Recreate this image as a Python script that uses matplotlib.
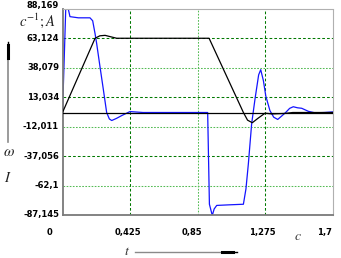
import matplotlib
matplotlib.use("Agg")
import matplotlib.pyplot as plt
from matplotlib.lines import Line2D
import matplotlib.transforms as mtransforms

plt.rcParams['mathtext.fontset'] = 'stix'

# ---- data ----
y_ticks = [88.169, 63.124, 38.079, 13.034, -12.011, -37.056, -62.1, -87.145]
y_tick_labels = ["88,169", "63,124", "38,079", "13,034", "-12,011", "-37,056", "-62,1", "-87,145"]
x_ticks = [0, 0.425, 0.85, 1.275, 1.7]
x_tick_labels = ["0", "0,425", "0,85", "1,275", "1,7"]

t_w = [0, 0.205, 0.235, 0.268, 0.30, 0.341, 0.923, 1.139, 1.165, 1.195, 1.23, 1.275, 1.32, 1.40, 1.45, 1.7]
w = [0, 63.1, 65.2, 65.6, 64.5, 63.124, 63.124, 0, -6.5, -8.7, -5.0, -0.6, -1.2, -0.8, 0, 0]

t_i = [0, 0.0095, 0.022, 0.03, 0.047, 0.1, 0.173, 0.19, 0.205, 0.215, 0.236, 0.257, 0.278,
       0.295, 0.31, 0.34, 0.373, 0.425, 0.507, 0.914, 0.925, 0.943, 0.955, 0.971, 1.05,
       1.139, 1.155, 1.17, 1.191, 1.212, 1.235, 1.248, 1.265, 1.28, 1.306, 1.33, 1.355,
       1.38, 1.405, 1.43, 1.453, 1.48, 1.506, 1.548, 1.59, 1.65, 1.7]
cur = [0, 40, 95, 92, 81.5, 80.5, 80.5, 78, 67, 58.7, 39, 19.7, 0,
       -5.5, -6.8, -5, -2.6, 0.8, 0, 0, -78, -87.5, -82, -79, -78.5,
       -78, -65, -44, -9.5, 11.4, 32, 36.4, 27, 14, 1.6, -4, -5.9,
       -3, 0, 3.5, 4.9, 4, 3.6, 1, -0.3, 0, 0.5]

W, H = 341, 258
fig = plt.figure(figsize=(W / 100, H / 100), dpi=100)
x0, x1, y0, y1 = 62.5, 332.5, 8.8, 215.0
ax = fig.add_axes([x0 / W, 1 - y1 / H, (x1 - x0) / W, (y1 - y0) / H])
ax.set_xlim(0, 1.7)
ax.set_ylim(-87.145, 88.169)

dark = '#007800'
light = '#55bb55'
for i, v in enumerate(y_ticks[1:-1]):
    if i % 2 == 0:
        ax.axhline(v, color=dark, lw=0.75, dashes=(2.6, 2.0), zorder=1)
    else:
        ax.axhline(v, color=light, lw=0.75, dashes=(1.6, 1.4), zorder=1)
for i, v in enumerate(x_ticks[1:-1]):
    if i % 2 == 0:
        ax.axvline(v, color=dark, lw=0.75, dashes=(2.6, 2.0), zorder=1)
    else:
        ax.axvline(v, color=light, lw=0.75, dashes=(1.6, 1.4), zorder=1)

ax.plot(t_i, cur, color='#1414ff', lw=0.9, zorder=2)
ax.axhline(0, color='black', lw=0.9, zorder=3)
ax.plot(t_w, w, color='black', lw=0.9, zorder=4)

for s in ['left', 'bottom']:
    ax.spines[s].set_color('#7a7a7a')
    ax.spines[s].set_linewidth(1.3)
for s in ['top', 'right']:
    ax.spines[s].set_color('#b0b0b0')
    ax.spines[s].set_linewidth(0.8)
    ax.spines[s].set_linestyle((0, (1, 1)))
ax.set_xticks([])
ax.set_yticks([])

tick_font = dict(family='DejaVu Sans', weight='bold', size=6, color='black')
for v, lab in zip(y_ticks, y_tick_labels):
    off = mtransforms.offset_copy(ax.transData, fig=fig, x=-3.5, y=3 if v == y_ticks[0] else 0, units='dots')
    ax.text(0, v, lab, transform=off, ha='right', va='center', **tick_font)
for v, lab in zip(x_ticks, x_tick_labels):
    tr = mtransforms.blended_transform_factory(ax.transData, fig.transFigure)
    off = mtransforms.offset_copy(tr, fig=fig, x=-15.5, y=0, units='dots')
    ax.text(v, 1 - 232.5 / H, lab, transform=off, ha='left', va='center', **tick_font)


def fx(x):
    return x / W


def fy(y):
    return 1 - y / H


fig.text(fx(19), fy(26), r'$c^{-1}; A$', fontsize=10.5, ha='left', va='baseline', color='#222222')
fig.text(fx(297.5), fy(235.5), r'$c$', fontsize=10, ha='center', va='center', color='#333333')
fig.text(fx(127.5), fy(251), r'$t$', fontsize=10, ha='center', va='center', color='#333333')
fig.text(fx(9), fy(152), r'$\omega$', fontsize=11, ha='center', va='center', color='#222222')
fig.text(fx(7.5), fy(177), r'$I$', fontsize=10.5, ha='center', va='center', color='#222222')

# vertical arrow (left)
fig.add_artist(Line2D([fx(8), fx(8)], [fy(142), fy(48)], color='#8a8a8a', lw=1.2))
fig.add_artist(Line2D([fx(8), fx(8)], [fy(58), fy(45)], color='black', lw=2.2))
fig.add_artist(Line2D([fx(8), fx(8)], [fy(46), fy(42)], color='black', lw=1.0))
# horizontal arrow (bottom)
fig.add_artist(Line2D([fx(135), fx(230)], [fy(251.5), fy(251.5)], color='#8a8a8a', lw=1.0))
fig.add_artist(Line2D([fx(222), fx(233)], [fy(251.5), fy(251.5)], color='black', lw=2.2))
fig.add_artist(Line2D([fx(232), fx(237)], [fy(251.5), fy(251.5)], color='black', lw=1.0))

fig.savefig('out.png', dpi=100)
